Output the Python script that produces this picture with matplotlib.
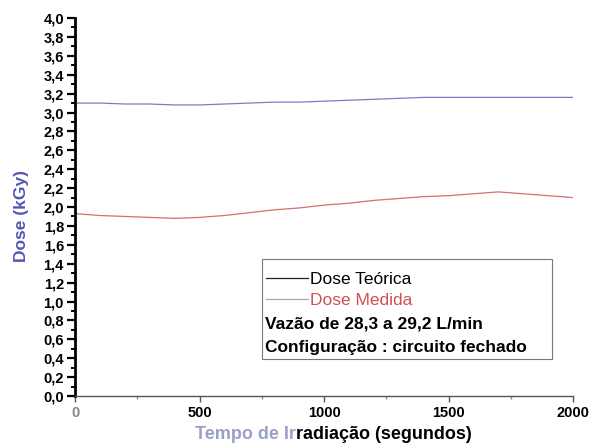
import matplotlib
matplotlib.use("Agg")
import matplotlib.pyplot as plt
from matplotlib.ticker import MultipleLocator, FuncFormatter
from matplotlib.patches import Rectangle

plt.rcParams['font.family'] = ['Liberation Sans', 'DejaVu Sans']

# Irradiation time (s) and dose (kGy)
tempo = [0, 100, 200, 300, 400, 500, 600, 700, 800, 900, 1000,
         1100, 1200, 1300, 1400, 1500, 1600, 1700, 1800, 1900, 2000]
dose_teorica = [3.10, 3.10, 3.09, 3.09, 3.08, 3.08, 3.09, 3.10, 3.11, 3.11, 3.12,
                3.13, 3.14, 3.15, 3.16, 3.16, 3.16, 3.16, 3.16, 3.16, 3.16]
dose_medida = [1.93, 1.91, 1.90, 1.89, 1.88, 1.89, 1.91, 1.94, 1.97, 1.99, 2.02,
               2.04, 2.07, 2.09, 2.11, 2.12, 2.14, 2.16, 2.14, 2.12, 2.10]

fig = plt.figure(figsize=(5.92, 4.46), dpi=100)
ax = fig.add_axes([0.1267, 0.1121, 0.8413, 0.8475])

l1, = ax.plot(tempo, dose_teorica, color='#7a7ac8', lw=0.9, label='Dose Teórica')
l2, = ax.plot(tempo, dose_medida, color='#d47070', lw=0.9, label='Dose Medida')

ax.set_xlim(0, 2000)
ax.set_ylim(0, 4.0)

ax.yaxis.set_major_locator(MultipleLocator(0.2))
ax.yaxis.set_minor_locator(MultipleLocator(0.1))
ax.xaxis.set_major_locator(MultipleLocator(500))
ax.xaxis.set_minor_locator(MultipleLocator(250))
ax.yaxis.set_major_formatter(FuncFormatter(lambda v, p: f"{v:.1f}".replace('.', ',')))

for s in ('top', 'right'):
    ax.spines[s].set_visible(False)
ax.spines['left'].set_linewidth(2.0)
ax.spines['left'].set_color('black')
ax.spines['bottom'].set_linewidth(1.0)
ax.spines['bottom'].set_color('#555555')

ax.tick_params(axis='y', which='major', direction='out', length=6, width=1.6,
               labelsize=10.5, pad=2)
ax.tick_params(axis='y', which='minor', direction='out', length=3, width=1.4)
ax.tick_params(axis='x', which='major', direction='out', length=4, width=1.0,
               color='#555555', labelsize=10.5, pad=3)
ax.tick_params(axis='x', which='minor', direction='out', length=2, width=1.0,
               color='#888888')
for t in ax.get_yticklabels():
    t.set_fontweight('bold')
for t in ax.get_xticklabels():
    t.set_fontweight('bold')
xl = ax.get_xticklabels()
xl[0].set_color('#888888')
xl[1].set_color('#888888')

ax.set_ylabel('Dose (kGy)', color='#5555b5', fontsize=12.5, fontweight='bold')
ax.yaxis.set_label_coords(-0.093, 0.475)

# x-axis title in two tones
ax.text(0.443, -0.103, 'Tempo de Ir', transform=ax.transAxes, ha='right',
        va='center', fontsize=13, fontweight='bold', color='#9aa0c8')
ax.text(0.443, -0.103, 'radiação (segundos)', transform=ax.transAxes, ha='left',
        va='center', fontsize=13, fontweight='bold', color='black')

# legend box with configuration notes
ax.add_patch(Rectangle((0.3755, 0.0979), 0.5825, 0.2645, transform=ax.transAxes,
                       fill=False, edgecolor='#777777', lw=0.8))
leg = ax.legend(handles=[l1, l2], loc='upper left', bbox_to_anchor=(0.356, 0.364),
                frameon=False, fontsize=12.5, handlelength=2.4, handletextpad=0.15,
                labelspacing=0.3, borderpad=0.3)
leg.legend_handles[0].set_color('#222222')
leg.legend_handles[1].set_color('#aaaaaa')
leg.get_texts()[1].set_color('#d05050')
ax.text(0.3815, 0.1905, 'Vazão de 28,3 a 29,2 L/min', transform=ax.transAxes,
        ha='left', va='center', fontsize=12.5, fontweight='bold')
ax.text(0.3815, 0.127, 'Configuração : circuito fechado', transform=ax.transAxes,
        ha='left', va='center', fontsize=12.5, fontweight='bold')

fig.savefig('out.png', dpi=100)
